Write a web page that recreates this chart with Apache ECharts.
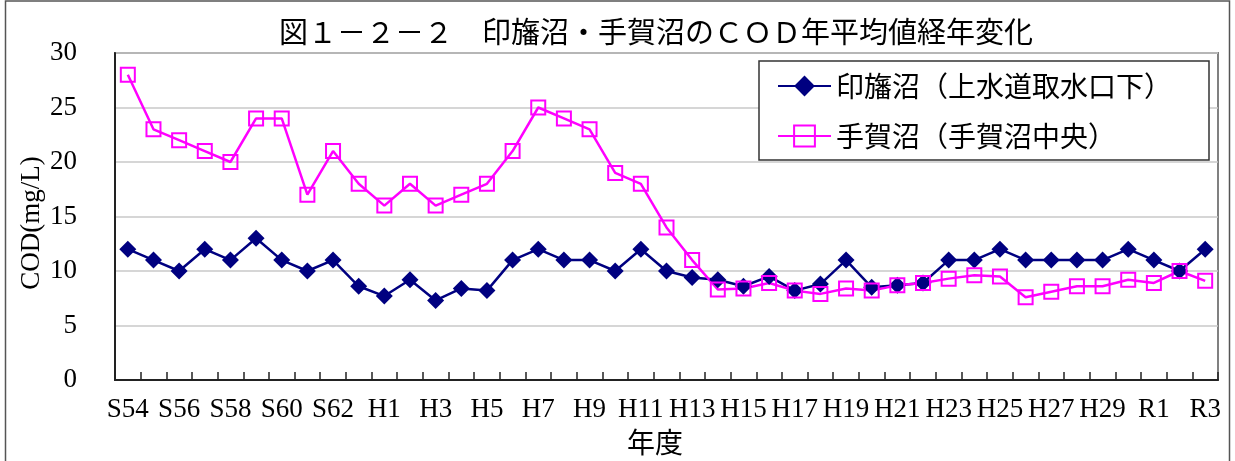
<!DOCTYPE html>
<html>
<head>
<meta charset="utf-8">
<script src="https://cdn.jsdelivr.net/npm/echarts@6/dist/echarts.min.js"></script>
<style>
html,body{margin:0;padding:0;background:#fff;}
#chart{width:1235px;height:461px;}
</style>
</head>
<body>
<div id="chart"></div>
<script>
const categories = ['S54','S55','S56','S57','S58','S59','S60','S61','S62','S63',
  'H1','H2','H3','H4','H5','H6','H7','H8','H9','H10',
  'H11','H12','H13','H14','H15','H16','H17','H18','H19','H20',
  'H21','H22','H23','H24','H25','H26','H27','H28','H29','H30',
  'R1','R2','R3'];
const inbaValues = [12,11,10,12,11,13,11,10,11,8.6,
  7.7,9.2,7.3,8.4,8.2,11,12,11,11,10,
  12,10,9.4,9.2,8.6,9.5,8.2,8.8,11,8.5,
  8.7,8.9,11,11,12,11,11,11,11,12,
  11,10,12];
const tegaValues = [28,23,22,21,20,24,24,17,21,18,
  16,18,16,17,18,21,25,24,23,19,
  18,14,11,8.3,8.4,8.9,8.2,7.9,8.4,8.2,
  8.7,8.9,9.3,9.6,9.5,7.6,8.1,8.6,8.6,9.2,
  8.9,10,9.1];
const seriesNames = ['印旛沼（上水道取水口下）','手賀沼（手賀沼中央）'];
const titleText = '図１－２－２　印旛沼・手賀沼のＣＯＤ年平均値経年変化';
const yTicks = {min:0, max:30, interval:5};

const serif = "'Liberation Serif', 'Noto Sans CJK JP', serif";
const cjk = "'Noto Sans CJK JP', 'Liberation Serif', sans-serif";

const chart = echarts.init(document.getElementById('chart'), null, {renderer:'canvas'});
chart.setOption({
  backgroundColor: '#ffffff',
  animation: false,
  title: {
    text: titleText,
    left: 274,
    top: 12,
    textStyle: {fontFamily: cjk, fontSize: 29, fontWeight: 'normal', color: '#000'}
  },
  graphic: [{
    type: 'rect',
    shape: {x: 5.5, y: 1, width: 1224, height: 470},
    style: {fill: 'none', stroke: '#555', lineWidth: 1.5},
    silent: true
  }],
  legend: {
    orient: 'vertical',
    left: 759,
    top: 61,
    padding: [11, 37, 10, 18],
    itemGap: 22,
    itemWidth: 53,
    itemHeight: 26,
    borderColor: '#333',
    borderWidth: 1.5,
    backgroundColor: '#fff',
    textStyle: {fontFamily: cjk, fontSize: 28, color: '#000', lineHeight: 28},
    data: seriesNames
  },
  grid: {
    left: 115, right: 17, top: 53, bottom: 81,
    show: true, borderColor: '#808080', borderWidth: 2
  },
  xAxis: {
    type: 'category',
    data: categories,
    boundaryGap: true,
    name: '年度',
    nameLocation: 'middle',
    nameGap: 48,
    nameMoveOverlap: false,
    nameTextStyle: {fontFamily: cjk, fontSize: 28, color: '#000', padding: [0, 23, 0, 0]},
    axisLine: {lineStyle: {color: '#222', width: 2}},
    axisTick: {show: true, inside: true, length: 8, interval: 0, lineStyle: {color: '#222', width: 1.5}},
    axisLabel: {interval: 1, margin: 16, fontFamily: serif, fontSize: 27, color: '#000'},
    splitLine: {show: false}
  },
  yAxis: {
    type: 'value',
    min: yTicks.min, max: yTicks.max, interval: yTicks.interval,
    name: 'COD(mg/L)',
    nameLocation: 'middle',
    nameRotate: 90,
    nameGap: 70,
    nameMoveOverlap: false,
    nameTextStyle: {fontFamily: serif, fontSize: 27, color: '#000', padding: [0, 13, 0, 0]},
    axisLine: {show: true, lineStyle: {color: '#222', width: 2}},
    axisTick: {show: false},
    axisLabel: {margin: 38, fontFamily: serif, fontSize: 27, color: '#000'},
    splitLine: {show: true, lineStyle: {color: '#c8c8c8', width: 1.5}}
  },
  series: [{
    name: seriesNames[0],
    type: 'line',
    data: inbaValues,
    symbol: 'diamond',
    symbolSize: 17,
    lineStyle: {color: '#000080', width: 2.5},
    itemStyle: {color: '#000080'}
  }, {
    name: seriesNames[1],
    type: 'line',
    data: tegaValues,
    symbol: 'rect',
    symbolSize: 14,
    lineStyle: {color: '#ff00ff', width: 2.5},
    itemStyle: {color: 'rgba(0,0,0,0)', borderColor: '#ff00ff', borderWidth: 2}
  }]
});
</script>
</body>
</html>
